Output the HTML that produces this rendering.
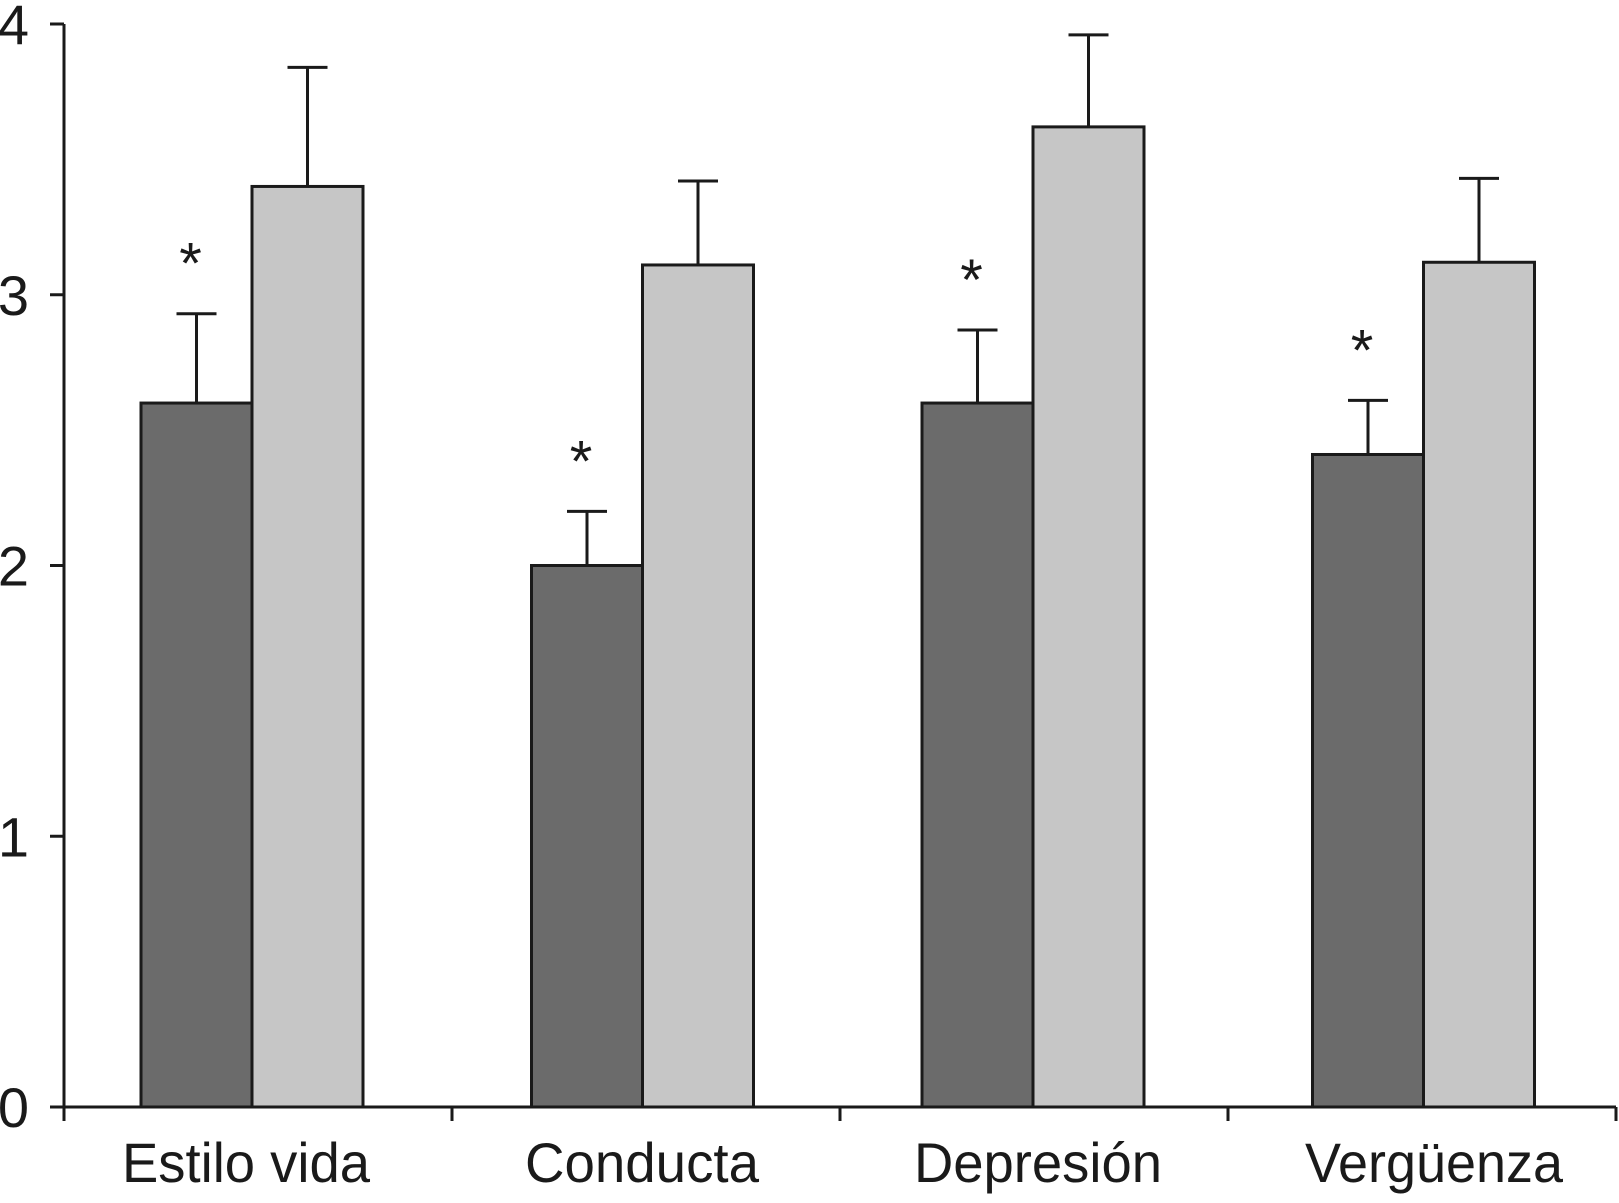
<!DOCTYPE html>
<html><head><meta charset="utf-8"><style>html,body{margin:0;padding:0;background:#fff}svg{display:block}text{font-family:"Liberation Sans",Arial,sans-serif;fill:#1a1a1a}</style></head>
<body>
<svg id="chart" width="1619" height="1203" viewBox="0 0 1619 1203" xmlns="http://www.w3.org/2000/svg"></svg>
<script>
const categories = ["Estilo vida", "Conducta", "Depresión", "Vergüenza"];
const darkValues = [2.60, 2.00, 2.60, 2.41];
const darkErrors = [0.33, 0.20, 0.27, 0.20];
const lightValues = [3.40, 3.11, 3.62, 3.12];
const lightErrors = [0.44, 0.31, 0.34, 0.31];
const significant = [true, true, true, true];
const yTicks = [0, 1, 2, 3, 4];

const svg = document.getElementById('chart');
const NS = 'http://www.w3.org/2000/svg';
const x0 = 64, x1 = 1616, y0 = 1107, yTop = 24;
const yScale = v => y0 - (v / 4) * (y0 - yTop);
const band = (x1 - x0) / categories.length;
const barW = 111;
const labelWidths = [248, 234, 248, 258];
function mk(tag, attrs, parent) {
  const e = document.createElementNS(NS, tag);
  for (const k in attrs) e.setAttribute(k, attrs[k]);
  (parent || svg).appendChild(e);
  return e;
}
let ax = mk('line', {x1: x0, y1: yTop, x2: x0, y2: y0, stroke: '#1a1a1a', 'stroke-width': 3});


yTicks.forEach(t => {
  const y = yScale(t);
  const tk = mk('line', {x1: x0 - 14, y1: y, x2: x0, y2: y, stroke: '#1a1a1a', 'stroke-width': 3});
  
  
  const tl = mk('text', {x: 29, y: y + 20, 'font-size': 56, 'text-anchor': 'end'});
  tl.textContent = t;
  
  
});
categories.forEach((c, i) => {
  const cx = 252 + 390.5 * i;
  const series = [[darkValues[i], darkErrors[i], '#6b6b6b', cx - barW, 'bar-dark'], [lightValues[i], lightErrors[i], '#c6c6c6', cx, 'bar-light']];
  series.forEach(([v, e, col, bx, nm]) => {
    const mid = bx + barW / 2;
    const el = mk('line', {x1: mid, y1: yScale(v), x2: mid, y2: yScale(v + e), stroke: '#1a1a1a', 'stroke-width': 3});
    
    
    const cap = mk('line', {x1: mid - 20, y1: yScale(v + e), x2: mid + 20, y2: yScale(v + e), stroke: '#1a1a1a', 'stroke-width': 3});
    
    
    const r = mk('rect', {x: bx, y: yScale(v), width: barW, height: y0 - yScale(v), fill: col, stroke: '#1a1a1a', 'stroke-width': 3});
    
    
  });
  if (significant[i]) {
    const s = mk('text', {x: cx - barW / 2 - 6, y: yScale(darkValues[i] + darkErrors[i]) - 30, 'font-size': 58, 'text-anchor': 'middle'});
    s.textContent = '*';
    
    
  }
  const lab = mk('text', {x: 246 + 396 * i, y: 1182, 'font-size': 56, 'text-anchor': 'middle', textLength: labelWidths[i], lengthAdjust: 'spacingAndGlyphs'});
  lab.textContent = c;
  
  
});
let xa = mk('line', {x1: x0, y1: y0, x2: x1, y2: y0, stroke: '#1a1a1a', 'stroke-width': 3});


for (let i = 0; i <= categories.length; i++) {
  const x = x0 + band * i;
  const t = mk('line', {x1: x, y1: y0, x2: x, y2: y0 + 14, stroke: '#1a1a1a', 'stroke-width': 3});
  
  
}
</script>
</body></html>
